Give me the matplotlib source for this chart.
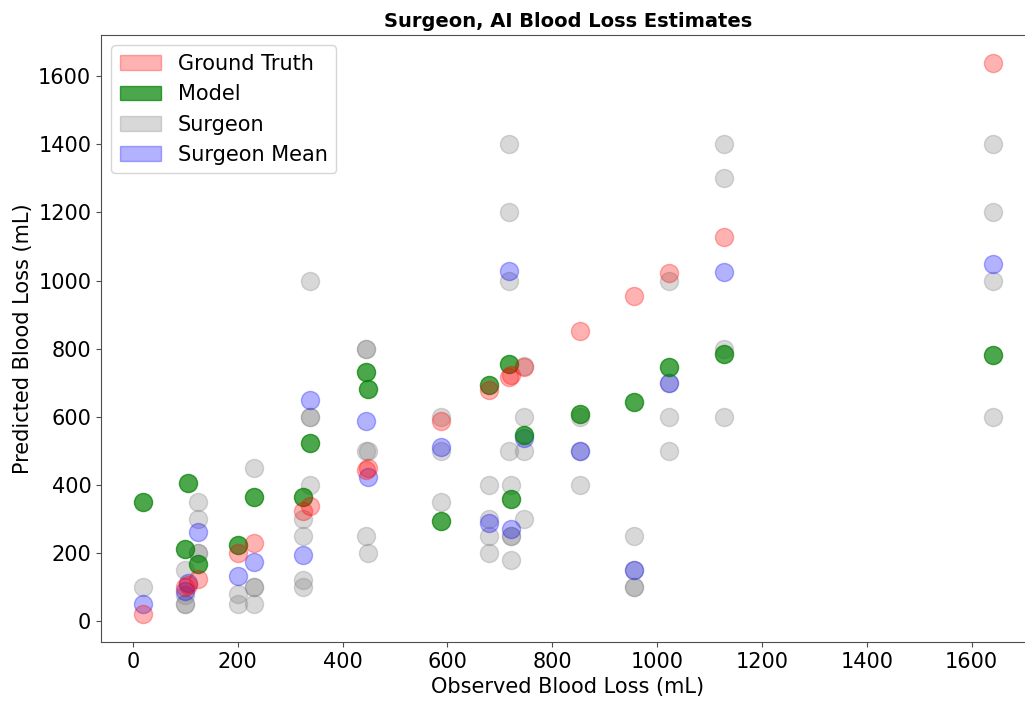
import matplotlib
matplotlib.use("Agg")
import matplotlib.pyplot as plt
import matplotlib.patches as mpatches

# observed blood loss per case (mL); ground truth is plotted as y = x
observed = [20, 100, 105, 125, 200, 230, 324, 338, 444, 449,
            587, 680, 718, 722, 746, 853, 955, 1023, 1127, 1640]
model_pred = [350, 212, 407, 167, 223, 364, 365, 522, 732, 681,
              294, 694, 756, 358, 547, 608, 644, 747, 785, 782]
surgeon_mean = [50, 90, 111, 262, 132, 175, 193, 650, 588, 424,
                512, 288, 1027, 270, 538, 500, 150, 700, 1026, 1050]

# individual surgeon estimates, one list per case (same order as observed)
surgeon_est = [
    [100],
    [150, 76, 50, 50],
    [],
    [350, 300, 200, 200],
    [80, 50],
    [450, 100, 100, 50],
    [300, 250, 120, 100],
    [1000, 600, 600, 400],
    [800, 800, 500, 250],
    [500, 200],
    [600, 500, 350],
    [400, 300, 250, 200],
    [1400, 1200, 1000, 500],
    [400, 250, 250, 180],
    [750, 600, 500, 300],
    [600, 500, 400],
    [250, 150, 100, 100],
    [1000, 700, 600, 500],
    [1400, 1300, 800, 600],
    [1400, 1200, 1000, 600],
]

surg_x = [x for x, ests in zip(observed, surgeon_est) for _ in ests]
surg_y = [y for ests in surgeon_est for y in ests]

fig = plt.figure(figsize=(10.25, 7.02), dpi=100)
ax = fig.add_axes([101 / 1025, 60 / 702, 934 / 1025, 607 / 702])

size = 170
ax.scatter(surg_x, surg_y, s=size, color="gray", alpha=0.3)
ax.scatter(observed, surgeon_mean, s=size, color="blue", alpha=0.3)
ax.scatter(observed, model_pred, s=size, color="green", alpha=0.7)
ax.scatter(observed, observed, s=size, color="red", alpha=0.3)

ax.set_xlim(-61, 1721)
ax.set_ylim(-61, 1721)
ax.set_xticks(range(0, 1601, 200))
ax.set_yticks(range(0, 1601, 200))
ax.tick_params(labelsize=15, color="0.3")
for sp in ax.spines.values():
    sp.set_color("0.3")

ax.set_xlabel("Observed Blood Loss (mL)", fontsize=15)
ax.set_ylabel("Predicted Blood Loss (mL)", fontsize=15)
ax.set_title("Surgeon, AI Blood Loss Estimates", fontsize=14, fontweight="bold")

handles = [
    mpatches.Patch(color="red", alpha=0.3, label="Ground Truth"),
    mpatches.Patch(color="green", alpha=0.7, label="Model"),
    mpatches.Patch(color="gray", alpha=0.3, label="Surgeon"),
    mpatches.Patch(color="blue", alpha=0.3, label="Surgeon Mean"),
]
ax.legend(handles=handles, loc="upper left", fontsize=15)

fig.savefig("out.png", dpi=100)
